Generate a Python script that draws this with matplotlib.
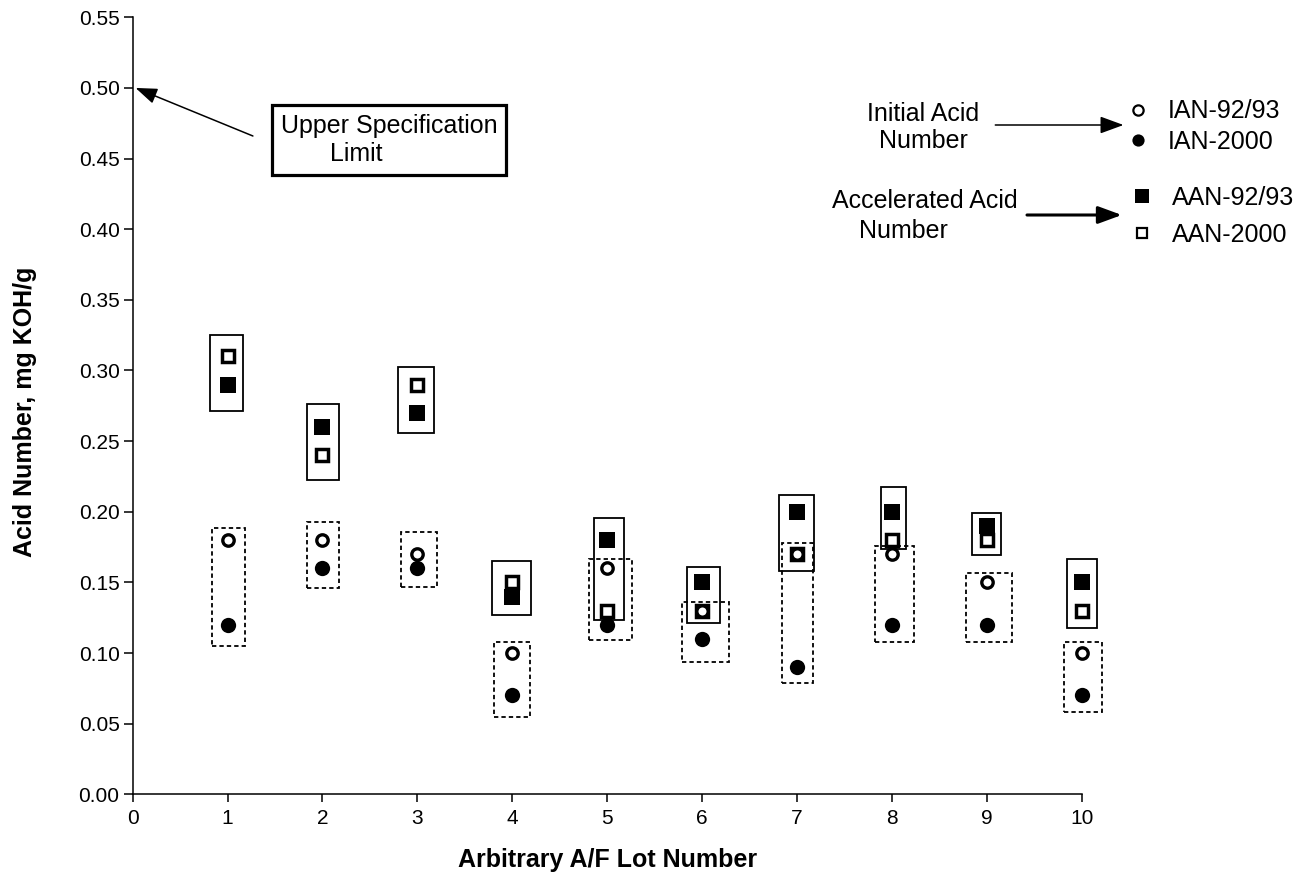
import matplotlib
matplotlib.use('Agg')
import matplotlib.pyplot as plt
from matplotlib.lines import Line2D
from matplotlib.patches import Rectangle
from matplotlib.ticker import FormatStrFormatter

plt.rcParams['font.family'] = ['Liberation Sans', 'DejaVu Sans']

# ---------------- data ----------------
lots = [1, 2, 3, 4, 5, 6, 7, 8, 9, 10]
ian_9293 = [0.18, 0.18, 0.17, 0.10, 0.16, 0.13, 0.17, 0.17, 0.15, 0.10]
ian_2000 = [0.12, 0.16, 0.16, 0.07, 0.12, 0.11, 0.09, 0.12, 0.12, 0.07]
aan_9293 = [0.29, 0.26, 0.27, 0.14, 0.18, 0.15, 0.20, 0.20, 0.19, 0.15]
aan_2000 = [0.31, 0.24, 0.29, 0.15, 0.13, 0.13, 0.17, 0.18, 0.18, 0.13]
series_labels = ['IAN-92/93', 'IAN-2000', 'AAN-92/93', 'AAN-2000']

# grouping boxes (data units)
aan_box_left = [0.815, 1.833, 2.799, 3.783, 4.864, 5.844, 6.813, 7.882, 8.847, 9.848]
aan_box_right = [1.165, 2.177, 3.178, 4.197, 5.180, 6.192, 7.179, 8.145, 9.146, 10.164]
aan_box_bottom = [0.2715, 0.2224, 0.2561, 0.1270, 0.1234, 0.1215, 0.1584, 0.1735, 0.1695, 0.1180]
aan_box_top = [0.3248, 0.2762, 0.3028, 0.1654, 0.1955, 0.1608, 0.2120, 0.2174, 0.1990, 0.1664]

ian_box_left = [0.839, 1.840, 2.824, 3.810, 4.808, 5.791, 6.839, 7.822, 8.778, 9.817]
ian_box_right = [1.183, 2.174, 3.203, 4.190, 5.264, 6.283, 7.172, 8.236, 9.269, 10.217]
ian_box_bottom = [0.1050, 0.1463, 0.1470, 0.0550, 0.1093, 0.0939, 0.0790, 0.1076, 0.1076, 0.0585]
ian_box_top = [0.1884, 0.1931, 0.1856, 0.1081, 0.1666, 0.1364, 0.1778, 0.1758, 0.1569, 0.1081]

x_ticks = [0, 1, 2, 3, 4, 5, 6, 7, 8, 9, 10]
y_ticks = [0.00, 0.05, 0.10, 0.15, 0.20, 0.25, 0.30, 0.35, 0.40, 0.45, 0.50, 0.55]
spec_limit = 0.50

# ---------------- figure ----------------
W, H = 1308, 874
fig = plt.figure(figsize=(W / 100, H / 100), dpi=100)
ax = fig.add_axes([132.7 / W, 1 - 794.3 / H, 949 / W, 777 / H])


def fx(px):
    return px / W


def fy(py):
    return 1 - py / H


# boxes
for l, r, b, t in zip(aan_box_left, aan_box_right, aan_box_bottom, aan_box_top):
    ax.add_patch(Rectangle((l, b), r - l, t - b, fill=False, ec='black', lw=1.3,
                           clip_on=False, zorder=2))
for l, r, b, t in zip(ian_box_left, ian_box_right, ian_box_bottom, ian_box_top):
    ax.add_patch(Rectangle((l, b), r - l, t - b, fill=False, ec='black', lw=1.3,
                           linestyle=(0, (2.4, 1.7)), clip_on=False, zorder=2))

# markers
ax.plot(lots, aan_9293, ls='none', marker='s', ms=11.5, mfc='black', mec='black', mew=0,
        clip_on=False, zorder=3)
ax.plot(lots, aan_2000, ls='none', marker='s', ms=9.0, mfc='white', mec='black', mew=2.5,
        clip_on=False, zorder=4)
ax.plot(lots, ian_2000, ls='none', marker='o', ms=11.0, mfc='black', mec='black', mew=0,
        clip_on=False, zorder=5)
ax.plot(lots, ian_9293, ls='none', marker='o', ms=8.2, mfc='white', mec='black', mew=2.4,
        clip_on=False, zorder=6)

# axes styling
ax.set_xlim(0, 10)
ax.set_ylim(0, 0.55)
for s in ['top', 'right']:
    ax.spines[s].set_visible(False)
for s in ['left', 'bottom']:
    ax.spines[s].set_linewidth(1.1)
ax.set_xticks(x_ticks)
ax.set_yticks(y_ticks)
ax.yaxis.set_major_formatter(FormatStrFormatter('%.2f'))
ax.tick_params(axis='both', direction='out', width=1.1, labelsize=15, colors='black')
ax.tick_params(axis='x', length=5.5, pad=5)
ax.tick_params(axis='y', length=6.5, pad=3)

ax.set_xlabel('Arbitrary A/F Lot Number', fontsize=18, fontweight='bold')
ax.xaxis.set_label_coords(0.5, -0.0695)
ax.set_ylabel('Acid Number, mg KOH/g', fontsize=18, fontweight='bold')
ax.yaxis.set_label_coords(-0.1008, 0.492)

# upper specification limit annotation
fig.text(fx(281), fy(140), 'Upper Specification\n       Limit', fontsize=18,
         ha='left', va='center', linespacing=1.2,
         bbox=dict(boxstyle='square,pad=0.35', fc='white', ec='black', lw=2.3))
ax.annotate('', xy=(0.03, spec_limit), xycoords='data',
            xytext=(252.9, H - 136), textcoords='figure pixels',
            arrowprops=dict(arrowstyle='-|>,head_length=0.6,head_width=0.22',
                            mutation_scale=22, lw=1.1, color='black',
                            shrinkA=0, shrinkB=0))

# legend-like annotation
fig.text(fx(923), fy(120.7), 'Initial Acid', fontsize=18, ha='center', va='baseline')
fig.text(fx(923.3), fy(148.3), 'Number', fontsize=18, ha='center', va='baseline')
fig.text(fx(925), fy(208.3), 'Accelerated Acid', fontsize=18, ha='center', va='baseline')
fig.text(fx(903), fy(238.3), 'Number', fontsize=18, ha='center', va='baseline')

ax.annotate('', xy=(1123.5, H - 125), xycoords='figure pixels',
            xytext=(995.3, H - 125), textcoords='figure pixels',
            arrowprops=dict(arrowstyle='-|>,head_length=0.6,head_width=0.22',
                            mutation_scale=24, lw=1.1, color='black',
                            shrinkA=0, shrinkB=0))
ax.annotate('', xy=(1121.8, H - 215), xycoords='figure pixels',
            xytext=(1027, H - 215), textcoords='figure pixels',
            arrowprops=dict(arrowstyle='-|>,head_length=0.6,head_width=0.22',
                            mutation_scale=24, lw=2.2, color='black',
                            shrinkA=0, shrinkB=0))

h_circ = [Line2D([], [], ls='none', marker='o', ms=7.4, mfc='white', mec='black', mew=1.6),
          Line2D([], [], ls='none', marker='o', ms=8.8, mfc='black', mec='black', mew=0)]
h_sq = [Line2D([], [], ls='none', marker='s', ms=9.4, mfc='black', mec='black', mew=0),
        Line2D([], [], ls='none', marker='s', ms=7.8, mfc='white', mec='black', mew=1.6)]

leg1 = fig.legend(h_circ, series_labels[:2], loc='center left',
                  bbox_to_anchor=(fx(1125.1), fy(126.7)), frameon=False, fontsize=18,
                  handlelength=1.0, handletextpad=0.69, labelspacing=0.26,
                  borderpad=0, borderaxespad=0)
leg2 = fig.legend(h_sq, series_labels[2:], loc='center left',
                  bbox_to_anchor=(fx(1129.3), fy(216.5)), frameon=False, fontsize=18,
                  handlelength=1.0, handletextpad=0.69, labelspacing=0.52,
                  borderpad=0, borderaxespad=0)

fig.savefig('out.png', dpi=100)
